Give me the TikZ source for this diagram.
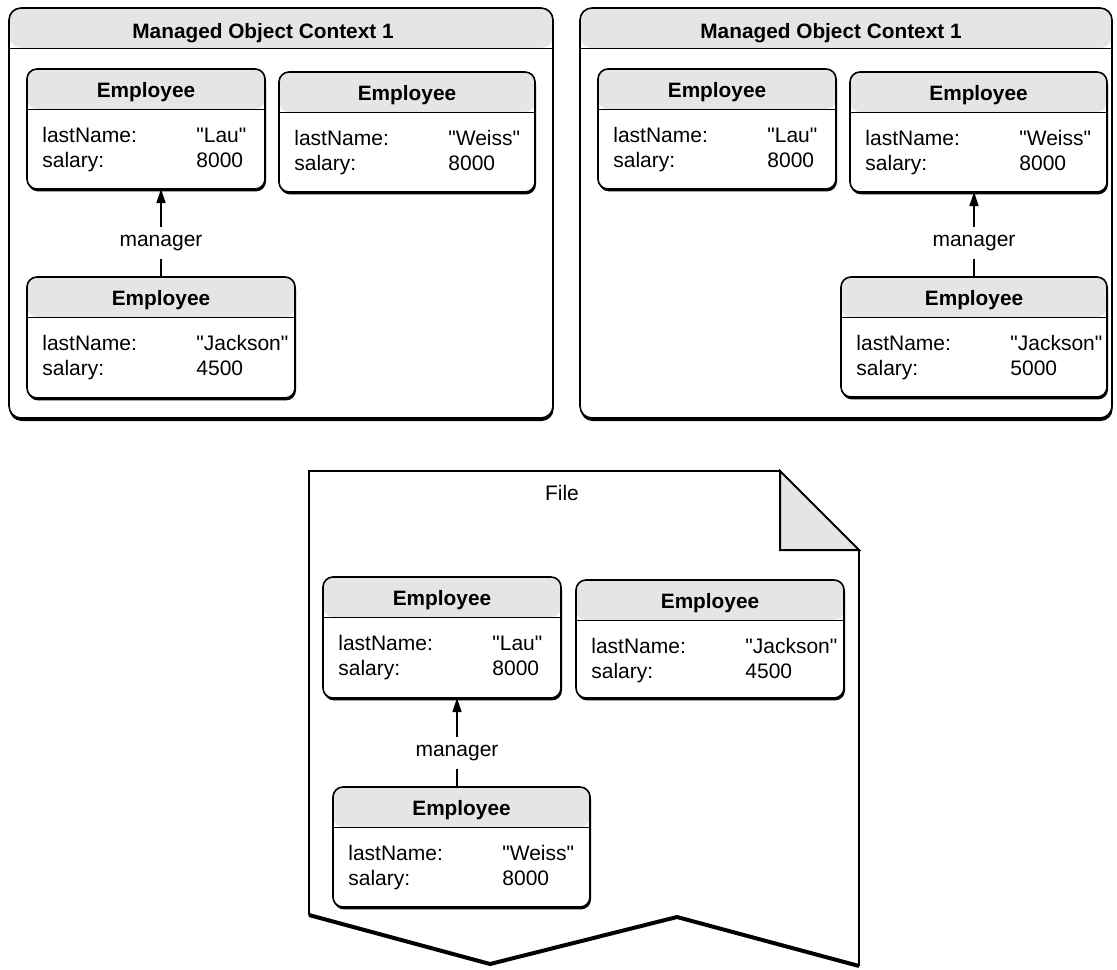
\documentclass[tikz,border=0pt]{standalone}
\usepackage{fontspec}
\setmainfont{Liberation Sans}[Ligatures=TeXOff]
\usetikzlibrary{arrows.meta,calc,fit,shadows}
\definecolor{headgray}{HTML}{E5E5E5}

\tikzset{
  header/.style={path picture={
    \fill[headgray] (path picture bounding box.north west) rectangle ([yshift=-20pt]path picture bounding box.north east);
    \draw[line width=0.5pt] ([yshift=-20pt]path picture bounding box.north west) -- ([yshift=-20pt]path picture bounding box.north east);}},
  ctxbox/.style={draw, line width=0.8pt, fill=white, rounded corners=6pt, inner sep=0pt, outer sep=0pt, header,
    drop shadow={shadow xshift=0.3pt, shadow yshift=-1.5pt, opacity=1, fill=black}},
  empbox/.style={draw, line width=0.8pt, fill=white, rounded corners=5pt, inner sep=0pt, outer sep=0pt, header,
    drop shadow={shadow xshift=0.5pt, shadow yshift=-1.2pt, opacity=1, fill=black}},
  boxtitle/.style={font=\bfseries\fontsize{10.4}{12}\selectfont, anchor=base},
  field/.style={font=\fontsize{10.5}{12}\selectfont, anchor=base west, inner sep=0pt},
  mgr/.style={font=\fontsize{10.5}{12}\selectfont, inner sep=4pt},
  arr/.style={line width=0.75pt, -{Triangle[length=7pt,width=4.5pt]}}
}

% name, x1, y1, x2, y2, last name, salary
\newcommand{\employee}[7]{%
  \node[empbox, fit={(#2,#3) (#4,#5)}] (#1) {};
  \node[boxtitle] at ($(#1.north)+(0,28)$) {Employee};
  \node[field] at ($(#1.north west)+(15,73)$) {lastName:};
  \node[field] at ($(#1.north west)+(169,73)$) {#6};
  \node[field] at ($(#1.north west)+(15,98)$) {salary:};
  \node[field] at ($(#1.north west)+(169,98)$) {#7};
}

\begin{document}
\begin{tikzpicture}[x=0.5pt, y=-0.5pt]
    \useasboundingbox (0,0) rectangle (1117,969);

    % contexts
    \node[ctxbox, fit={(9,8) (553,418)}] (lctx) {};
    \node[boxtitle] at (263,38) {Managed Object Context 1};
    \node[ctxbox, fit={(580,8) (1112,418)}] (rctx) {};
    \node[boxtitle] at (831,38) {Managed Object Context 1};

    \employee{llau}{27}{69}{265}{189}{"Lau"}{8000}
    \employee{lweiss}{279}{72}{535}{192}{"Weiss"}{8000}
    \employee{ljack}{27}{277}{295}{398}{"Jackson"}{4500}

    \employee{rlau}{598}{69}{836}{189}{"Lau"}{8000}
    \employee{rweiss}{850}{72}{1107}{192}{"Weiss"}{8000}
    \employee{rjack}{841}{277}{1107}{397}{"Jackson"}{5000}

    \node[mgr] (lmgr) at (161,243) {manager};
    \draw[line width=0.75pt] (lmgr) -- (lmgr |- ljack.north);
    \draw[arr] (lmgr) -- (lmgr |- llau.south);

    \node[mgr] (rmgr) at (974,243) {manager};
    \draw[line width=0.75pt] (rmgr) -- (rmgr |- rjack.north);
    \draw[arr] (rmgr) -- (rmgr |- rweiss.south);

    % file
    \draw[line width=0.8pt] (309,915) -- (309,471) -- (780,471) -- (859,550) -- (859,966);
    \draw[line width=2pt, line join=miter] (309,915) -- (490,964) -- (677,917) -- (859,966);
    \filldraw[fill=headgray, line width=1pt] (780,471) -- (780,550) -- (859,550) -- cycle;
    \node[font=\fontsize{10.5}{12}\selectfont] (file) at (562,493) {File};

    \employee{flau}{323}{577}{561}{698}{"Lau"}{8000}
    \employee{fjack}{576}{580}{844}{698}{"Jackson"}{4500}
    \employee{fweiss}{333}{787}{590}{907}{"Weiss"}{8000}

    \node[mgr] (fmgr) at (457,753) {manager};
    \draw[line width=0.75pt] (fmgr) -- (fmgr |- fweiss.north);
    \draw[arr] (fmgr) -- (fmgr |- flau.south);
\end{tikzpicture}
\end{document}
